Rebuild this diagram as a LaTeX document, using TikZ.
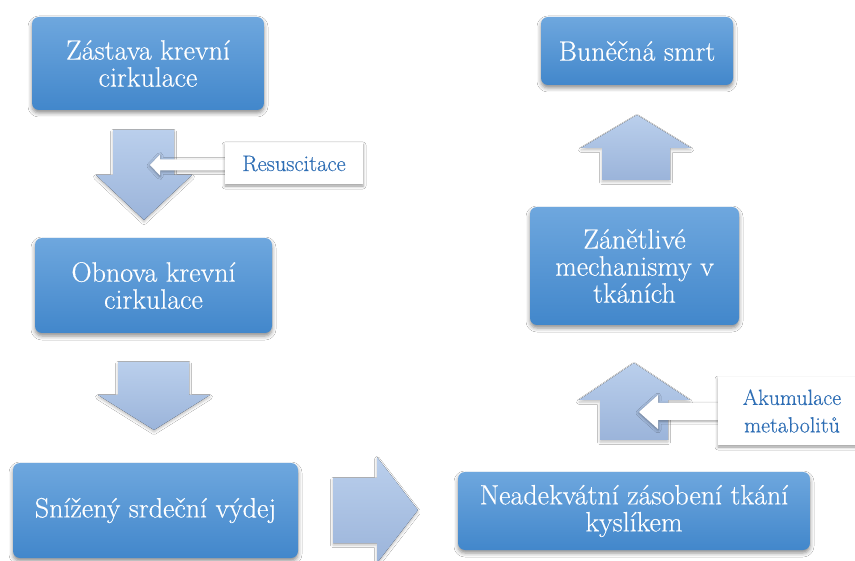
\documentclass[tikz,border=0pt]{standalone}
\usepackage{fontspec}
\newfontfamily\boxfont{Latin Modern Roman}[FakeBold=0.4]
\usetikzlibrary{shadows.blur}
\definecolor{boxtop}{RGB}{110,167,222}
\definecolor{boxbot}{RGB}{66,135,203}
\definecolor{arrtop}{RGB}{186,207,236}
\definecolor{arrbot}{RGB}{155,180,218}
\definecolor{labtxt}{RGB}{46,110,181}
\begin{document}
\begin{tikzpicture}[x=1pt,y=-1pt,
  box/.style={rounded corners=7pt, top color=boxtop, bottom color=boxbot, draw=none,
    text=white, align=center, font=\boxfont\fontsize{28}{27}\selectfont, inner sep=0pt,
    blur shadow={shadow xshift=0pt, shadow yshift=-3pt, shadow blur radius=4pt, shadow opacity=45}},
  blockarrow/.style={top color=arrtop, bottom color=arrbot, draw=none,
    blur shadow={shadow xshift=0pt, shadow yshift=-2pt, shadow blur radius=2.5pt, shadow opacity=25}},
  labelbox/.style={fill=white, draw=none, text=labtxt, align=center,
    font=\boxfont\fontsize{22.5}{27.5}\selectfont, inner sep=0pt,
    blur shadow={shadow xshift=0pt, shadow yshift=-2pt, shadow blur radius=3pt, shadow opacity=40}},
  whitearrow/.style={fill=white, draw=none,
    blur shadow={shadow xshift=0pt, shadow yshift=-1pt, shadow blur radius=3pt, shadow opacity=40}}
]
\useasboundingbox (0,0) rectangle (855,561);
\fill[white] (0,0) rectangle (855,561);

% boxes
\node[box, minimum width=232pt, minimum height=93pt] (b1) at (148,63.5) {Zástava krevní\\cirkulace};
\node[box, minimum width=237pt, minimum height=95pt] (b2) at (153.5,285.5) {Obnova krevní\\cirkulace};
\node[box, minimum width=285pt, minimum height=95pt] (b3) at (155.5,510.5) {Snížený srdeční výdej};
\node[box, minimum width=352pt, minimum height=78pt] (b4) at (634,511) {Neadekvátní zásobení tkání\\kyslíkem};
\node[box, minimum width=209pt, minimum height=118pt] (b5) at (634.5,266) {Zánětlivé\\mechanismy v\\tkáních};
\node[box, minimum width=192pt, minimum height=68pt] (b6) at (637,51) {Buněčná smrt};

% block arrows
\fill[blockarrow] (113,130) -- (174,130) -- (174,175) -- (192,175) -- (144,220) -- (96,175) -- (113,175) -- cycle;
\fill[blockarrow] (118,362) -- (189,362) -- (189,395) -- (210,395) -- (154,430) -- (98,395) -- (118,395) -- cycle;
\fill[blockarrow] (333,478) -- (377,478) -- (377,457) -- (418,510) -- (377,563) -- (377,543) -- (333,543) -- cycle;
\fill[blockarrow] (600,440) -- (600,400) -- (579,400) -- (634,363) -- (690,400) -- (668,400) -- (668,440) -- cycle;
\fill[blockarrow] (602,180) -- (602,148) -- (581,148) -- (637,115) -- (691,148) -- (670,148) -- (670,180) -- cycle;

% white arrows
\fill[whitearrow] (228,159.5) -- (160,159.5) -- (160,154.5) -- (150,165) -- (160,175.5) -- (160,170.5) -- (228,170.5) -- cycle;
\fill[whitearrow] (722,403) -- (658,403) -- (658,395) -- (639,412) -- (658,429) -- (658,420) -- (722,420) -- cycle;

% labels
\node[labelbox, minimum width=138pt, minimum height=41pt] (l1) at (294,163.5) {Resuscitace};
\node[labelbox, minimum width=148pt, minimum height=68pt, font=\boxfont\fontsize{22}{27.5}\selectfont] (l2) at (792,411) {Akumulace\\metabolitů};
\end{tikzpicture}
\end{document}
